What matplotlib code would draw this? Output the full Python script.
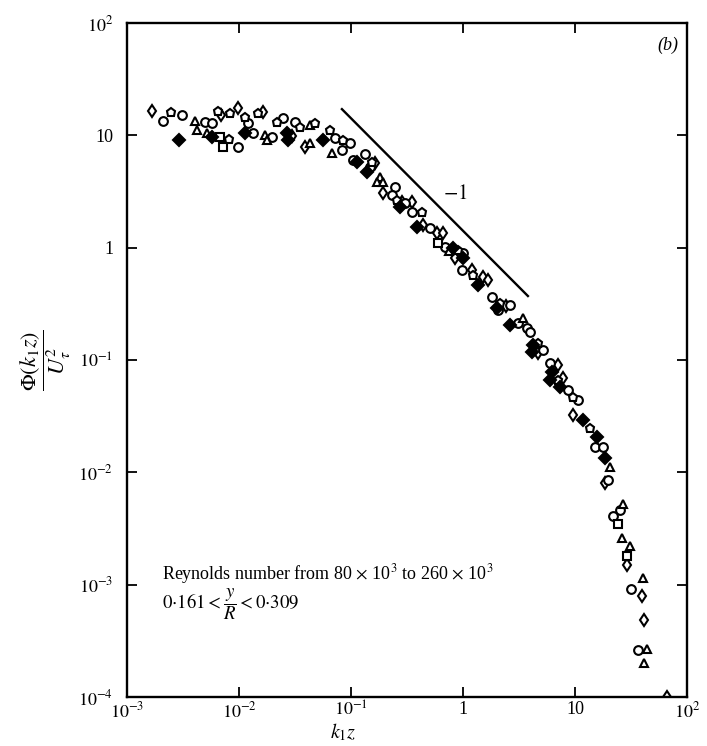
import numpy as np
import matplotlib
matplotlib.use("Agg")
import matplotlib.pyplot as plt
from matplotlib.ticker import FixedLocator, FuncFormatter, NullLocator

plt.rcParams['font.family'] = ['Liberation Serif', 'DejaVu Serif']
plt.rcParams['mathtext.fontset'] = 'stix'

# spectra, one list pair per symbol
diamond_x = [1.67e-3, 6.90e-3, 9.80e-3, 1.64e-2, 3.88e-2, 3.0e-2,
             0.164, 0.193, 0.285, 0.351, 0.440, 0.586, 0.662, 0.849, 1.20, 1.51, 1.67, 2.4,
             4.67, 7.05, 7.82, 9.60, 18.5, 29.1, 39.6, 41.0, 66.3]
diamond_y = [16.4, 15.2, 17.5, 16.1, 7.87, 9.9,
             5.66, 3.06, 2.55, 2.55, 1.59, 1.35, 1.35, 0.807, 0.632, 0.547, 0.514, 0.30,
             0.115, 0.0901, 0.0690, 0.0323, 0.0080, 0.0015, 0.00080, 0.00048, 1.0e-4]

circle_x = [2.10e-3, 3.10e-3, 4.97e-3, 5.74e-3, 9.80e-3, 1.20e-2, 1.33e-2, 1.97e-2, 2.47e-2,
            3.16e-2, 7.19e-2, 8.32e-2, 9.80e-2,
            0.133, 0.104, 0.148, 0.247, 0.232, 0.303, 0.351, 0.507, 0.690, 1.00, 0.979, 1.82,
            2.63, 2.06, 3.10, 3.73, 3.96, 5.18, 5.98, 8.66, 10.6, 15.1,
            17.8, 19.7, 25.2, 21.8, 31.6, 36.5]
circle_y = [13.4, 15.2, 13.1, 12.9, 7.87, 12.9, 10.5, 9.66, 14.3,
            13.1, 9.46, 7.40, 8.54,
            6.82, 6.03, 5.22, 3.47, 2.94, 2.49, 2.08, 1.50, 1.01, 0.895, 0.632, 0.363,
            0.308, 0.278, 0.213, 0.192, 0.177, 0.122, 0.0938, 0.0540, 0.0440, 0.0167,
            0.0168, 0.0085, 0.0046, 0.0041, 0.00092, 0.00026]

triangle_x = [4.05e-3, 4.22e-3, 5.18e-3, 1.71e-2, 1.78e-2, 4.31e-2, 4.31e-2, 6.76e-2,
              0.182, 0.171, 0.193, 0.75, 3.43,
              20.6, 26.8, 26.3, 31.0, 40.5, 43.9, 41.3]
triangle_y = [13.4, 11.1, 10.5, 10.1, 9.08, 12.3, 8.54, 6.96,
              4.25, 3.84, 3.84, 0.93, 0.236,
              0.0111, 0.0052, 0.0026, 0.0022, 0.00115, 0.00027, 0.00020]

pentagon_x = [2.47e-3, 6.49e-3, 8.14e-3, 8.32e-3, 1.13e-2, 1.48e-2, 2.18e-2, 3.51e-2,
              4.78e-2, 6.49e-2, 8.49e-2,
              0.154, 0.258, 0.431, 0.902, 1.23, 2.14, 4.67, 7.05, 9.60, 13.6]
pentagon_y = [16.1, 16.4, 9.27, 15.8, 14.6, 15.8, 13.1, 11.9,
              12.9, 11.1, 9.08,
              5.78, 2.65, 2.08, 0.953, 0.570, 0.321, 0.141, 0.0662, 0.0468, 0.0248]

square_x = [6.76e-3, 7.19e-3, 0.598, 24.2, 29.1]
square_y = [9.66, 7.87, 1.10, 0.0035, 0.0018]

filled_x = [2.91e-3, 5.74e-3, 1.13e-2, 2.69e-2, 2.74e-2, 5.62e-2,
            0.113, 0.139, 0.274, 0.388, 0.815, 1.00, 1.36, 2.01,
            2.63, 4.22, 4.13, 6.24, 5.98, 7.35, 11.8, 15.7, 18.5]
filled_y = [9.08, 9.66, 10.5, 10.5, 9.08, 9.08,
            5.78, 4.71, 2.30, 1.52, 0.991, 0.807, 0.465, 0.290,
            0.205, 0.136, 0.117, 0.0780, 0.0662, 0.0574, 0.0292, 0.0206, 0.0134]

# the -1 slope guide
slope_x = [0.083, 3.8]
slope_y = [17.1, 0.371]

fig = plt.figure(figsize=(7.07, 7.46), dpi=100)
ax = fig.add_axes([0.1796, 0.0657, 0.7921, 0.9035])
ax.set_xscale('log')
ax.set_yscale('log')
ax.set_xlim(1e-3, 1e2)
ax.set_ylim(1e-4, 1e2)

style = dict(linestyle='none', markeredgecolor='black', markeredgewidth=1.5, markersize=6.3)
ax.plot(diamond_x, diamond_y, marker='d', markerfacecolor='white', **style)
ax.plot(circle_x, circle_y, marker='o', markerfacecolor='white', **style)
ax.plot(triangle_x, triangle_y, marker='^', markerfacecolor='white', **style)
ax.plot(pentagon_x, pentagon_y, marker='p', markerfacecolor='white', **style)
ax.plot(square_x, square_y, marker='s', markerfacecolor='white', **style)
ax.plot(filled_x, filled_y, marker='D', markerfacecolor='black', **style)

ax.plot(slope_x, slope_y, color='black', linewidth=1.7)
ax.text(0.586, 0.745, r'$-1$', transform=ax.transAxes, fontsize=15, ha='center', va='center')
ax.text(0.966, 0.967, '(b)', transform=ax.transAxes, fontsize=13, style='italic',
        ha='center', va='center')
ax.text(0.0625, 0.1825, r'Reynolds number from 80 $\times$ 10$^3$ to 260 $\times$ 10$^3$',
        transform=ax.transAxes, fontsize=13, ha='left', va='center')
ax.text(0.0625, 0.138, r'$0{\cdot}161 < \dfrac{y}{R} < 0{\cdot}309$',
        transform=ax.transAxes, fontsize=13.5, ha='left', va='center')


def dec_fmt(v, pos):
    e = int(round(np.log10(v)))
    if e == 0:
        return '1'
    if e == 1:
        return '10'
    return r'$10^{%d}$' % e


ax.xaxis.set_major_locator(FixedLocator([1e-3, 1e-2, 1e-1, 1, 10, 100]))
ax.yaxis.set_major_locator(FixedLocator([1e-4, 1e-3, 1e-2, 1e-1, 1, 10, 100]))
ax.xaxis.set_minor_locator(NullLocator())
ax.yaxis.set_minor_locator(NullLocator())
ax.xaxis.set_major_formatter(FuncFormatter(dec_fmt))
ax.yaxis.set_major_formatter(FuncFormatter(dec_fmt))
ax.tick_params(which='major', direction='in', length=7, width=1.3, labelsize=13,
               top=True, right=True)
ax.tick_params(axis='x', pad=3)
ax.tick_params(axis='y', pad=10)
for sp in ax.spines.values():
    sp.set_linewidth(1.7)

# x label sits left of centre in the original, just under the tick labels
fig.text(343 / 707, 1 - 732 / 746, r'$k_1 z$', fontsize=14.5, ha='center', va='center')
ax.set_ylabel(r'$\dfrac{\Phi(k_1 z)}{U_\tau^2}$', fontsize=16, labelpad=4)

fig.savefig('out.png', dpi=100)
